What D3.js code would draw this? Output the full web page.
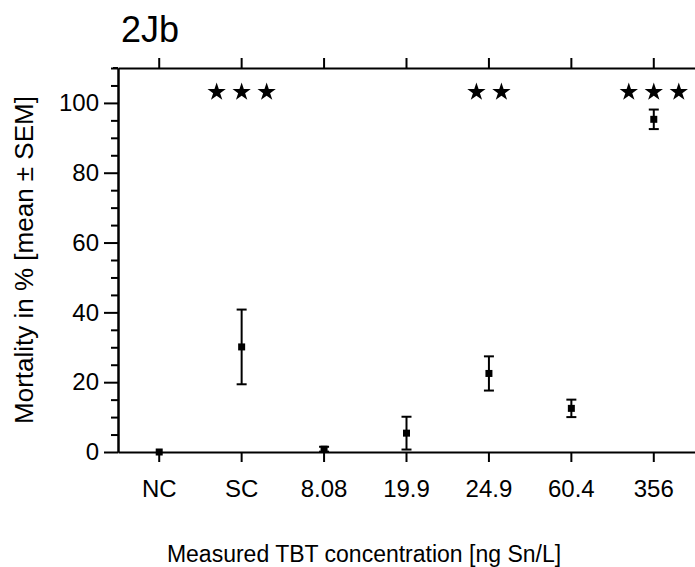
<!DOCTYPE html>
<html>
<head>
<meta charset="utf-8">
<script src="https://cdn.jsdelivr.net/npm/d3@7"></script>
<style>
  body { margin: 0; background: #fff; }
  svg { display: block; font-family: "Liberation Sans", Arial, sans-serif; }
  .axis path, .axis line { stroke: #000; stroke-width: 2; }
  .axis text { fill: #000; }
</style>
</head>
<body>
<div class="container"></div>
<script>
const categories = ["NC", "SC", "8.08", "19.9", "24.9", "60.4", "356"];
const means = [0, 30.1, 0.8, 5.4, 22.5, 12.5, 95.3];
const sems = [0, 10.7, 0.7, 4.7, 4.9, 2.5, 2.8];
const stars = [0, 3, 0, 0, 2, 0, 3];
const yMajorTicks = [0, 20, 40, 60, 80, 100];

const width = 695;
const height = 567;
const plotLeft = 118, plotRight = 695, plotTop = 68, plotBottom = 452;
const fontFamily = "'Liberation Sans', Arial, sans-serif";

const svg = d3.select(".container")
  .append("svg")
  .attr("width", width)
  .attr("height", height);

const x = d3.scaleBand()
  .domain(categories)
  .range([plotLeft, plotRight])
  .paddingInner(0)
  .paddingOuter(0);
const cx = d => x(d) + x.bandwidth() / 2;

const y = d3.scaleLinear()
  .domain([0, 110])
  .range([plotBottom, plotTop]);

// minor y ticks every 5
const minorTicks = d3.range(0, 111, 5).filter(v => v % 20 !== 0);
svg.append("g")
  .attr("class", "axis")
  .attr("transform", `translate(${plotLeft},0)`)
  .call(d3.axisLeft(y).tickValues(minorTicks).tickSize(7).tickSizeOuter(0).tickFormat(""));

svg.append("g")
  .attr("class", "axis")
  .attr("transform", `translate(${plotLeft},0)`)
  .call(d3.axisLeft(y).tickValues(yMajorTicks).tickSize(14).tickPadding(5).tickSizeOuter(0))
  .attr("font-size", 24)
  .attr("font-family", fontFamily);

svg.append("g")
  .attr("class", "axis")
  .attr("transform", `translate(0,${plotBottom})`)
  .call(d3.axisBottom(x).tickSize(10).tickPadding(18).tickSizeOuter(0))
  .attr("font-size", 24)
  .attr("font-family", fontFamily);

svg.append("g")
  .attr("class", "axis")
  .attr("transform", `translate(0,${plotTop})`)
  .call(d3.axisTop(x).tickSize(10).tickSizeOuter(0).tickFormat(""));

// little overhang of the top line past the y axis
svg.append("line")
  .attr("x1", plotLeft - 5).attr("x2", plotLeft)
  .attr("y1", plotTop).attr("y2", plotTop)
  .attr("stroke", "#000").attr("stroke-width", 2);

// error bars
const bars = svg.append("g").attr("id", "error-bars");
categories.forEach((c, i) => {
  if (sems[i] <= 0) return;
  const lo = Math.max(0, means[i] - sems[i]);
  const hi = means[i] + sems[i];
  const g = bars.append("g").attr("stroke", "#000").attr("stroke-width", 2);
  g.append("line").attr("x1", cx(c)).attr("x2", cx(c)).attr("y1", y(lo)).attr("y2", y(hi));
  g.append("line").attr("x1", cx(c) - 5).attr("x2", cx(c) + 5).attr("y1", y(hi)).attr("y2", y(hi));
  g.append("line").attr("x1", cx(c) - 5).attr("x2", cx(c) + 5).attr("y1", y(lo)).attr("y2", y(lo));
});

// mean markers
svg.append("g")
  .selectAll("rect")
  .data(categories)
  .enter()
  .append("rect")
  .attr("x", d => cx(d) - 3.5)
  .attr("y", (d, i) => y(means[i]) - 3.5)
  .attr("width", 7)
  .attr("height", 7)
  .attr("fill", "#000");

// significance stars
const starShape = d3.symbol().type(d3.symbolStar).size(104);
const starGroup = svg.append("g").attr("id", "stars");
categories.forEach((c, i) => {
  const n = stars[i];
  for (let k = 0; k < n; k++) {
    const sx = cx(c) + (k - (n - 1) / 2) * 25;
    starGroup.append("path")
      .attr("d", starShape())
      .attr("transform", `translate(${sx},92)`)
      .attr("fill", "#000");
  }
});

// titles
svg.append("text")
  .attr("x", 121)
  .attr("y", 42)
  .attr("font-size", 36)
  .text("2Jb");

svg.append("text")
  .attr("x", 364)
  .attr("y", 562)
  .attr("text-anchor", "middle")
  .attr("font-size", 23)
  .text("Measured TBT concentration [ng Sn/L]");

svg.append("text")
  .attr("transform", "translate(33,260) rotate(-90)")
  .attr("text-anchor", "middle")
  .attr("font-size", 26)
  .text("Mortality in % [mean ± SEM]");
</script>
</body>
</html>
